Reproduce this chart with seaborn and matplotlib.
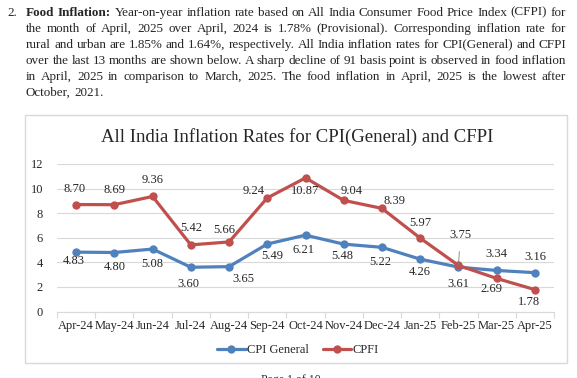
import pandas as pd
import matplotlib
matplotlib.use("Agg")
import matplotlib.pyplot as plt
import seaborn as sns
from matplotlib.patches import Rectangle
from matplotlib.lines import Line2D

months = ["Apr-24", "May-24", "Jun-24", "Jul-24", "Aug-24", "Sep-24", "Oct-24",
          "Nov-24", "Dec-24", "Jan-25", "Feb-25", "Mar-25", "Apr-25"]
cpi_general = [4.83, 4.80, 5.08, 3.60, 3.65, 5.49, 6.21, 5.48, 5.22, 4.26, 3.61, 3.34, 3.16]
cfpi = [8.70, 8.69, 9.36, 5.42, 5.66, 9.24, 10.87, 9.04, 8.39, 5.97, 3.75, 2.69, 1.78]

# label offsets in pixels (dx, dy)
cpi_offsets = [(-2, -9), (0, -14), (0, -15), (-2, -17), (14, -12), (5, -12), (-2, -15),
               (-1, -12), (-2, -15), (0, -13), (0, -17), (0, 16), (0, 16)]
cfpi_offsets = [(-2, 16), (0, 15), (0, 16), (0, 17), (-5, 12), (-14, 7), (0, -13),
                (8, 9), (13, 7), (0, 15), (2, 30), (-5, -11), (-6, -12)]

para_lines = [
    [("Food", True), ("Inflation:", True)] + [(w, False) for w in
        "Year-on-year inflation rate based on All India Consumer Food Price Index (CFPI) for".split()],
    [(w, False) for w in "the month of April, 2025 over April, 2024 is 1.78% (Provisional). Corresponding inflation rate for".split()],
    [(w, False) for w in "rural and urban are 1.85% and 1.64%, respectively. All India inflation rates for CPI(General) and CFPI".split()],
    [(w, False) for w in "over the last 13 months are shown below. A sharp decline of 91 basis point is observed in food inflation".split()],
    [(w, False) for w in "in April, 2025 in comparison to March, 2025. The food inflation in April, 2025 is the lowest after".split()],
    [(w, False) for w in "October, 2021.".split()],
]

W, H = 577, 378
BLUE = "#4F81BD"
RED = "#C0504D"
GRID = "#d9d9d9"
serif = "Liberation Serif"

sns.set_style("white")
plt.rcParams["font.family"] = [serif, "DejaVu Serif"]

fig = plt.figure(figsize=(W / 100, H / 100), dpi=100)
renderer = fig.canvas.get_renderer()


def fx(px):
    return px / W


def fy(py):
    return 1 - py / H


# paragraph text, justified
psize = 9.45
fig.text(fx(7), fy(15.7), "2.", fontsize=psize, va="baseline", ha="left")
x0, x1 = 26, 566
for i, words in enumerate(para_lines):
    yb = fy(15.7 + i * 16)
    texts = [fig.text(0, yb, w, fontsize=psize, va="baseline", ha="left",
                      fontweight="bold" if b else "normal") for w, b in words]
    widths = [t.get_window_extent(renderer).width for t in texts]
    if i < len(para_lines) - 1:
        gap = max((x1 - x0 - sum(widths)) / (len(texts) - 1), 1.5)
    else:
        gap = psize * 0.35
    x = x0
    for t, w in zip(texts, widths):
        t.set_x(fx(x))
        x += w + gap

# chart frame
fig.patches.append(Rectangle((fx(25), fy(363)), fx(567) - fx(25), fy(115) - fy(363),
                             transform=fig.transFigure, fill=False,
                             edgecolor=GRID, linewidth=1.0))
fig.text(fx(297), fy(137), "All India Inflation Rates for CPI(General) and CFPI",
         fontsize=13.5, ha="center", va="center")

ax = fig.add_axes([fx(57), fy(311.5), fx(554) - fx(57), fy(164) - fy(311.5)])
x = list(range(len(months)))
df = pd.DataFrame({"month": x, "CPI General": cpi_general, "CPFI": cfpi})

sns.lineplot(data=df, x="month", y="CPI General", ax=ax, color=BLUE, linewidth=2.3,
             marker="o", markersize=6, markeredgewidth=0)
sns.lineplot(data=df, x="month", y="CPFI", ax=ax, color=RED, linewidth=2.3,
             marker="o", markersize=6, markeredgewidth=0)

ax.set_xlim(-0.5, len(months) - 0.5)
ax.set_ylim(0, 12)
ax.set_yticks(range(0, 13, 2))
ax.set_xticks(x)
ax.set_xticklabels(months)
ax.set_xticks([i - 0.5 for i in range(len(months) + 1)], minor=True)
ax.tick_params(axis="x", which="major", length=0, pad=6, labelsize=9)
ax.tick_params(axis="x", which="minor", length=4, color=GRID, width=0.8, bottom=True)
ax.tick_params(axis="y", length=0, pad=10, labelsize=9)
ax.set_xlabel("")
ax.set_ylabel("")
ax.grid(axis="y", color=GRID, linewidth=0.8)
ax.set_axisbelow(True)
for s in ["top", "right", "left"]:
    ax.spines[s].set_visible(False)
ax.spines["bottom"].set_color(GRID)
ax.spines["bottom"].set_linewidth(0.8)

for i, (v, off) in enumerate(zip(cpi_general, cpi_offsets)):
    ax.annotate(f"{v:.2f}", (i, v), xytext=off, textcoords="offset pixels",
                ha="center", va="center", fontsize=9)
for i, (v, off) in enumerate(zip(cfpi, cfpi_offsets)):
    props = None
    if off[1] > 25:
        props = dict(arrowstyle="-", color="#7f7f7f", lw=0.6, shrinkA=5, shrinkB=0)
    ax.annotate(f"{v:.2f}", (i, v), xytext=off, textcoords="offset pixels",
                ha="center", va="center", fontsize=9, arrowprops=props)

handles = [Line2D([], [], color=BLUE, lw=2.3, marker="o", markersize=6, markeredgewidth=0),
           Line2D([], [], color=RED, lw=2.3, marker="o", markersize=6, markeredgewidth=0)]
fig.legend(handles, ["CPI General", "CPFI"], loc="center", bbox_to_anchor=(fx(298), fy(350)),
           ncol=2, frameon=False, fontsize=9, handlelength=2.3, handletextpad=0.1,
           columnspacing=1.1)

# page footer, cut by the bottom edge as in the screenshot
fig.text(fx(291), fy(373.5), "Page 1 of 10", fontsize=8.5, ha="center", va="top")

fig.savefig("out.png", dpi=100)
